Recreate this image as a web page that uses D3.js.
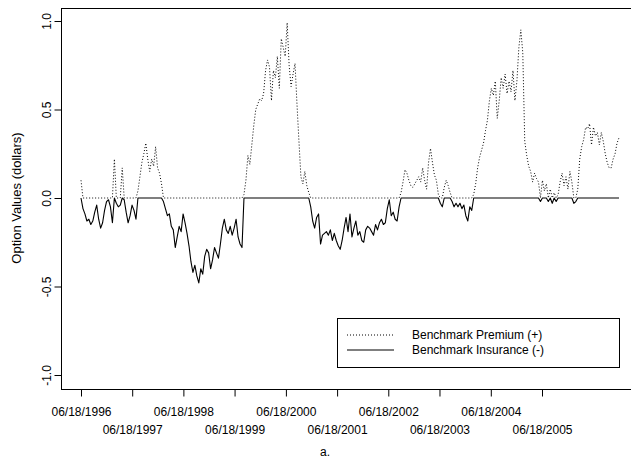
<!DOCTYPE html>
<html>
<head>
<meta charset="utf-8">
<script src="https://cdn.jsdelivr.net/npm/d3@7"></script>
<style>
  html, body { margin: 0; padding: 0; background: #fff; }
  svg { display: block; font-family: "Liberation Sans", Arial, Helvetica, sans-serif; }
</style>
</head>
<body>
<svg id="chart" width="631" height="463"></svg>
<script>
// Series are sampled every 14 days starting on the first date below.
const startDate = "1996-06-18";
const stepDays = 14;

// Benchmark Premium (+), dollars
const premium = [
  0.10,
  0, 0, 0, 0, 0, 0, 0, 0, 0, 0, 0, 0, 0, 0, 0, 0,
  0.22,
  0, 0, 0,
  0.17,
  0, 0, 0, 0, 0, 0, 0,
  0.04, 0.12, 0.20, 0.25, 0.31, 0.22, 0.15, 0.22, 0.18, 0.29, 0.17, 0.14, 0.08,
  0,
  0, 0, 0, 0, 0, 0, 0, 0, 0, 0, 0, 0, 0, 0, 0, 0, 0, 0, 0, 0,
  0, 0, 0, 0, 0, 0, 0, 0, 0, 0, 0, 0, 0, 0, 0, 0, 0, 0, 0, 0,
  0.02, 0.10, 0.24, 0.19, 0.30, 0.41, 0.50, 0.53, 0.56, 0.55, 0.59, 0.72, 0.78, 0.74, 0.55, 0.72, 0.68,
  0.80, 0.62, 0.90, 0.85, 0.80, 0.99, 0.75, 0.63, 0.70, 0.76, 0.53, 0.32, 0.12, 0.08, 0.15, 0.07, 0.03,
  0, 0, 0, 0, 0, 0, 0, 0, 0, 0, 0, 0, 0, 0, 0, 0, 0, 0, 0, 0, 0, 0, 0,
  0, 0, 0, 0, 0, 0, 0, 0, 0, 0, 0, 0, 0, 0, 0, 0, 0, 0, 0, 0, 0, 0, 0,
  0.03, 0.09, 0.16, 0.14, 0.10, 0.07, 0.06, 0.08, 0.10, 0.12, 0.09, 0.17, 0.10, 0.05, 0.20, 0.28, 0.20, 0.13, 0.10, 0.02,
  0, 0,
  0.06, 0.10, 0.07, 0.03,
  0, 0, 0, 0, 0, 0, 0, 0, 0, 0, 0,
  0.02, 0.08, 0.17, 0.23, 0.27, 0.31, 0.38, 0.44, 0.55, 0.62, 0.58, 0.66, 0.45, 0.55,
  0.68, 0.62, 0.70, 0.59, 0.66, 0.60, 0.72, 0.55, 0.66, 0.85, 0.95, 0.82, 0.32,
  0.24, 0.18, 0.15, 0.09, 0.14, 0.11, 0.09, 0, 0.10, 0.04, 0.08, 0, 0.05, 0,
  0.03, 0, 0.02, 0.09, 0.14, 0.07, 0.12, 0.05, 0.15, 0.09, 0, 0, 0.05, 0.22,
  0.29, 0.33, 0.40, 0.39, 0.42, 0.30, 0.40, 0.35, 0.37, 0.30,
  0.37, 0.32, 0.25, 0.20, 0.17, 0.17, 0.22, 0.25, 0.31, 0.34
];

// Benchmark Insurance (-), dollars
const insurance = [
  0,
  -0.06, -0.09, -0.13, -0.12, -0.15, -0.13, -0.08, -0.04, -0.12, -0.17, -0.14, -0.07, -0.02, -0.01, -0.05, -0.14,
  0,
  -0.03, -0.05, -0.04,
  0,
  -0.01, -0.08, -0.14, -0.10, -0.04, -0.07, -0.12,
  0, 0, 0, 0, 0, 0, 0, 0, 0, 0, 0, 0, 0,
  -0.02,
  -0.06, -0.10, -0.09, -0.16, -0.18, -0.28, -0.22, -0.16, -0.19, -0.09, -0.14, -0.20, -0.27, -0.36, -0.42, -0.38, -0.44, -0.48, -0.40, -0.43,
  -0.33, -0.29, -0.31, -0.40, -0.35, -0.28, -0.31, -0.34, -0.26, -0.17, -0.12, -0.18, -0.20, -0.16, -0.21, -0.17, -0.12, -0.22, -0.26, -0.28,
  0, 0, 0, 0, 0, 0, 0, 0, 0, 0, 0, 0, 0, 0, 0, 0, 0,
  0, 0, 0, 0, 0, 0, 0, 0, 0, 0, 0, 0, 0, 0, 0, 0, 0,
  -0.05, -0.13, -0.17, -0.11, -0.09, -0.26, -0.21, -0.20, -0.19, -0.21, -0.18, -0.24, -0.20, -0.24, -0.27, -0.29, -0.24, -0.17, -0.11, -0.19, -0.09, -0.22, -0.17,
  -0.13, -0.21, -0.19, -0.24, -0.25, -0.18, -0.16, -0.17, -0.19, -0.21, -0.15, -0.18, -0.14, -0.12, -0.15, -0.14, -0.06, -0.01, -0.10, -0.08, -0.12, -0.13, -0.05,
  0, 0, 0, 0, 0, 0, 0, 0, 0, 0, 0, 0, 0, 0, 0, 0, 0, 0, 0, 0,
  -0.03, -0.05,
  0, 0, 0, 0,
  -0.02, -0.05, -0.03, -0.05, -0.03, -0.06, -0.04, -0.10, -0.13, -0.05, -0.07,
  0, 0, 0, 0, 0, 0, 0, 0, 0, 0, 0, 0, 0, 0,
  0, 0, 0, 0, 0, 0, 0, 0, 0, 0, 0, 0, 0,
  0, 0, 0, 0, 0, 0, 0, -0.02, 0, 0, 0, -0.02, 0, -0.03,
  0, -0.02, 0, 0, 0, 0, 0, 0, 0, 0, -0.03, -0.02, 0, 0,
  0, 0, 0, 0, 0, 0, 0, 0, 0, 0,
  0, 0, 0, 0, 0, 0, 0, 0, 0, 0
];

const xTickDates = ["1996-06-18", "1997-06-18", "1998-06-18", "1999-06-18", "2000-06-18",
                    "2001-06-18", "2002-06-18", "2003-06-18", "2004-06-18", "2005-06-18"];
const yTicks = [-1, -0.5, 0, 0.5, 1];
const seriesNames = ["Benchmark Premium (+)", "Benchmark Insurance (-)"];
const yTitle = "Option Values (dollars)";
const caption = "a.";

const parseDate = d3.timeParse("%Y-%m-%d");
const t0 = parseDate(startDate);
const dates = premium.map((_, i) => d3.timeDay.offset(t0, i * stepDays));

// Plot frame (its right side runs past the page edge)
const frame = { left: 61, right: 641, top: 8, bottom: 389 };

const x = d3.scaleTime().domain(d3.extent(dates)).range([81, 619]);
const y = d3.scaleLinear().domain([-1, 1]).range([375, 21]);

const svg = d3.select("#chart");
svg.append("rect").attr("width", 631).attr("height", 463).attr("fill", "#fff");

const fontSize = 12;
const dotted = "1,2";

// frame box
svg.append("rect")
  .attr("x", frame.left + 0.5).attr("y", frame.top + 0.5)
  .attr("width", frame.right - frame.left).attr("height", frame.bottom - frame.top)
  .attr("fill", "none").attr("stroke", "#000").attr("stroke-width", 1);

// y axis
const yAxis = svg.append("g")
  .attr("transform", `translate(${frame.left + 0.5},0)`)
  .call(d3.axisLeft(y).tickValues(yTicks).tickSize(7).tickFormat(d => d.toFixed(1)));
yAxis.select(".domain").remove();
yAxis.selectAll("line").attr("stroke", "#000");
yAxis.selectAll("text")
  .attr("transform", "rotate(-90)")
  .attr("x", 0).attr("y", -11).attr("dy", 0)
  .attr("text-anchor", "middle")
  .attr("font-size", fontSize).attr("font-family", "Liberation Sans, Arial, sans-serif")
  .attr("fill", "#000");

// x axis with labels staggered over two rows
const xAxis = svg.append("g")
  .attr("transform", `translate(0,${frame.bottom + 0.5})`)
  .call(d3.axisBottom(x).tickValues(xTickDates.map(parseDate)).tickSize(7)
    .tickFormat(d3.timeFormat("%m/%d/%Y")));
xAxis.select(".domain").remove();
xAxis.selectAll("line").attr("stroke", "#000");
xAxis.selectAll("text")
  .attr("y", (d, i) => i % 2 === 0 ? 26 : 44).attr("dy", 0)
  .attr("font-size", fontSize).attr("font-family", "Liberation Sans, Arial, sans-serif")
  .attr("fill", "#000");

// axis title and caption
svg.append("text")
  .attr("transform", "translate(21,198) rotate(-90)")
  .attr("text-anchor", "middle").attr("font-size", 13).text(yTitle);
svg.append("text")
  .attr("x", 325).attr("y", 456)
  .attr("text-anchor", "middle").attr("font-size", fontSize).text(caption);

// series lines
const line = d3.line().x((d, i) => x(dates[i])).y(d => y(d));

svg.append("path").datum(insurance)
  .attr("d", line).attr("fill", "none")
  .attr("stroke", "#000").attr("stroke-width", 1.1).attr("stroke-linejoin", "round");

svg.append("path").datum(premium)
  .attr("d", line).attr("fill", "none")
  .attr("stroke", "#000").attr("stroke-width", 1).attr("stroke-dasharray", dotted);

// legend
const legend = svg.append("g");
legend.append("rect")
  .attr("x", 337.5).attr("y", 318.5).attr("width", 282).attr("height", 49)
  .attr("fill", "#fff").attr("stroke", "#000").attr("stroke-width", 1);
const legendRows = [
  { name: seriesNames[0], dash: dotted, width: 1 },
  { name: seriesNames[1], dash: null, width: 1.1 }
];
legendRows.forEach((r, i) => {
  const cy = 335 + i * 15;
  legend.append("line")
    .attr("x1", 347).attr("x2", 394).attr("y1", cy).attr("y2", cy)
    .attr("stroke", "#000").attr("stroke-width", r.width)
    .attr("stroke-dasharray", r.dash);
  legend.append("text")
    .attr("x", 412).attr("y", cy).attr("dy", "0.35em")
    .attr("font-size", fontSize).text(r.name);
});
</script>
</body>
</html>
